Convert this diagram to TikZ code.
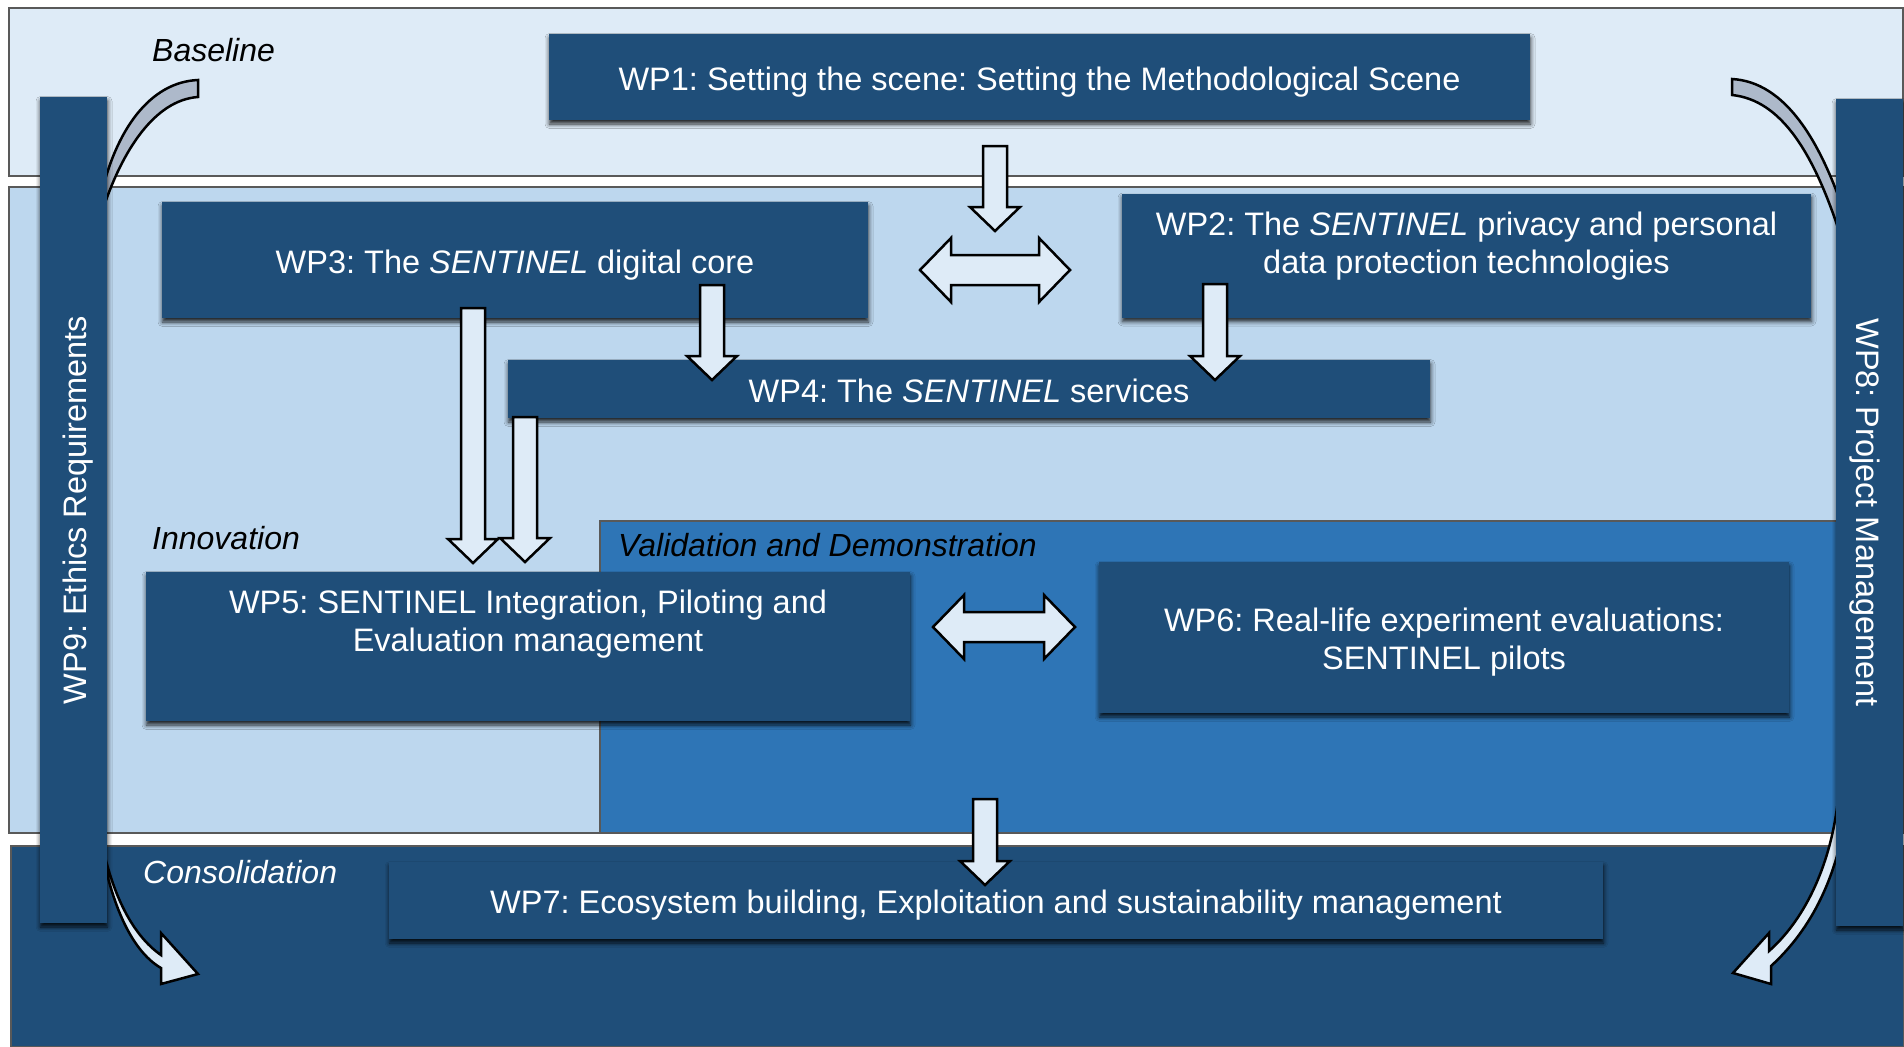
\documentclass[tikz,border=0pt]{standalone}
\usepackage{fontspec}
\setmainfont{Liberation Sans}
\frenchspacing
\usetikzlibrary{calc,shadows.blur}

\definecolor{wpdark}{HTML}{1F4E79}
\definecolor{bandbase}{HTML}{DEEBF7}
\definecolor{bandinno}{HTML}{BDD7EE}
\definecolor{bandvali}{HTML}{2E75B6}
\definecolor{arrowfill}{HTML}{DEEBF7}
\definecolor{arrowgray}{HTML}{ADB9CA}

\tikzset{
	band/.style = {draw = black!65, line width = 1.2pt},
	wpbox/.style = {fill = wpdark, text = white, inner sep = 2pt, align = center,
		font = \fontsize{32.5}{38}\selectfont, text height = 33, text depth = 7,
		blur shadow = {shadow xshift = 0.5pt, shadow yshift = -4pt, shadow blur radius = 4.5pt, shadow opacity = 85}},
	phase/.style = {inner sep = 0pt, anchor = west, font = \fontsize{32}{38}\selectfont\itshape},
	blk/.style = {draw = black, line width = 2.5pt, fill = arrowfill, line join = miter},
	curvearrow/.style = {draw = black, line width = 2.5pt, fill = #1, line join = miter}
}

% block arrows: start and tip
\newcommand{\blkdown}[2]{%
	\draw[blk] let \p1 = (#1), \p2 = (#2) in
	(\x1 - 12pt, \y1) -- (\x1 + 12pt, \y1) -- (\x1 + 12pt, \y2 + 24pt) -- (\x1 + 25pt, \y2 + 24pt)
	-- (\x1, \y2) -- (\x1 - 25pt, \y2 + 24pt) -- (\x1 - 12pt, \y2 + 24pt) -- cycle;}
\newcommand{\blkboth}[2]{%
	\draw[blk] let \p1 = (#1), \p2 = (#2) in
	(\x1, \y1) -- (\x1 + 31pt, \y1 + 32pt) -- (\x1 + 31pt, \y1 + 15pt) -- (\x2 - 31pt, \y1 + 15pt)
	-- (\x2 - 31pt, \y1 + 32pt) -- (\x2, \y1) -- (\x2 - 31pt, \y1 - 32pt) -- (\x2 - 31pt, \y1 - 15pt)
	-- (\x1 + 31pt, \y1 - 15pt) -- (\x1 + 31pt, \y1 - 32pt) -- cycle;}

\begin{document}
\begin{tikzpicture}[x = 1pt, y = -1pt]
	\useasboundingbox (0, 0) rectangle (1904, 1047);
	
	\filldraw[band, fill = bandbase] (9, 8) rectangle (1903, 176);
	\filldraw[band, fill = bandinno] (9, 187) rectangle (1903, 833);
	\filldraw[band, fill = bandvali] (600, 521) rectangle (1850, 833);
	\filldraw[band, fill = wpdark] (11, 846) rectangle (1904, 1047);
	
	\draw[curvearrow = arrowgray] (198, 80) .. controls (150, 82) and (115, 130) .. (100, 200) -- (102, 212) .. controls (122, 150) and (155, 100) .. (198, 97) -- cycle;
	\draw[curvearrow = arrowgray] (1732, 79) .. controls (1785, 82) and (1820, 140) .. (1845, 215) -- (1845, 250) .. controls (1815, 150) and (1780, 100) .. (1732, 95) -- cycle;
	\draw[curvearrow = arrowfill] (98, 820) .. controls (108, 890) and (132, 935) .. (161, 955) -- (161, 933) -- (198, 974) -- (161, 984) -- (161, 968) .. controls (130, 950) and (110, 900) .. (100, 840) -- cycle;
	\draw[curvearrow = arrowfill] (1848, 800) .. controls (1838, 885) and (1805, 935) .. (1771, 966) -- (1771, 984) -- (1733, 973) -- (1769, 933) -- (1769, 951) .. controls (1802, 922) and (1830, 870) .. (1838, 800) -- cycle;
	
	\node[wpbox, rotate = 90, minimum width = 826, minimum height = 67] (wp9) at (73.5, 510) {WP9: Ethics Requirements};
	\node[wpbox, rotate = -90, minimum width = 827, minimum height = 67] (wp8) at (1869.5, 512.5) {WP8: Project Management};
	
	\node[wpbox, minimum width = 981, minimum height = 86] (wp1) at (1039.5, 77) {WP1: Setting the scene: Setting the Methodological Scene};
	\node[wpbox, minimum width = 706, minimum height = 116] (wp3) at (515, 260) {WP3: The \textit{SENTINEL} digital core};
	\node[wpbox, minimum width = 689, minimum height = 124, text height = 61, text depth = 25] (wp2) at (1466.5, 255.5) {WP2: The \textit{SENTINEL} privacy and personal\\data protection technologies};
	\node[wpbox, minimum width = 922, minimum height = 58] (wp4) at (969, 389) {WP4: The \textit{SENTINEL} services};
	\node[wpbox, minimum width = 764, minimum height = 149, text height = 61, text depth = 51] (wp5) at (528, 646.5) {WP5: SENTINEL Integration, Piloting and\\Evaluation management};
	\node[wpbox, minimum width = 690, minimum height = 151, text height = 71, text depth = 7] (wp6) at (1444, 637.5) {WP6: Real-life experiment evaluations:\\SENTINEL pilots};
	\node[wpbox, minimum width = 1214, minimum height = 77] (wp7) at (996, 900.5) {WP7: Ecosystem building, Exploitation and sustainability management};
	
	\blkdown{995, 146}{995, 231}
	\blkboth{920, 270}{1070, 270}
	\blkdown{712, 285}{712, 380}
	\blkdown{1215, 284}{1215, 380}
	\blkdown{473, 308}{473, 563}
	\blkdown{525, 417}{525, 562}
	\blkboth{933, 627}{1075, 627}
	\blkdown{985, 799}{985, 885}
	
	\node[phase] (lbase) at (152, 50) {Baseline};
	\node[phase] (linno) at (152, 538) {Innovation};
	\node[phase] (lvali) at (618, 545) {Validation and Demonstration};
	\node[phase, text = white] (lcons) at (143, 872) {Consolidation};
\end{tikzpicture}
\end{document}
